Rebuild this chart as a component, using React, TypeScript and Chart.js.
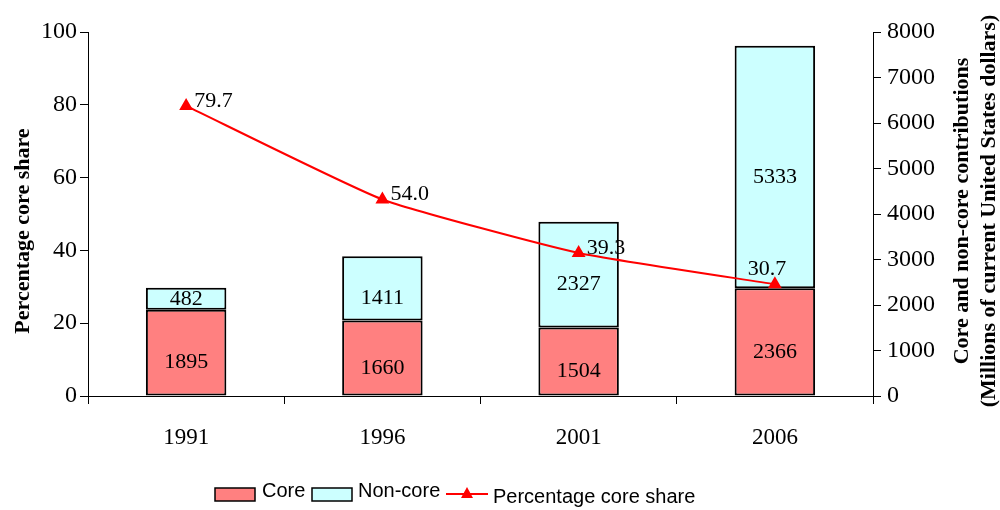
import React, { useEffect, useRef } from "react";
import { Chart, registerables } from "chart.js";

Chart.register(...registerables);

const years = ["1991", "1996", "2001", "2006"];
const coreValues = [1895, 1660, 1504, 2366];
const nonCoreValues = [482, 1411, 2327, 5333];
const coreSharePct = [79.7, 54.0, 39.3, 30.7];
const leftTicks = [0, 20, 40, 60, 80, 100];
const rightTicks = [0, 1000, 2000, 3000, 4000, 5000, 6000, 7000, 8000];
const lineLabelPlacement = ["right", "right", "right", "above"];

const SERIF = "'Liberation Serif', 'Times New Roman', serif";
const SANS = "'Liberation Sans', Arial, sans-serif";

const labelsPlugin = {
  id: "customLabels",
  afterDatasetsDraw(chart: any) {
    const ctx = chart.ctx;
    ctx.save();
    ctx.fillStyle = "#000";
    ctx.font = `22px ${SERIF}`;
    ctx.textAlign = "center";
    ctx.textBaseline = "middle";
    [0, 1].forEach((di) => {
      const meta = chart.getDatasetMeta(di);
      const vals = chart.data.datasets[di].data as number[];
      meta.data.forEach((bar: any, i: number) => {
        const top = Math.min(bar.y, bar.base);
        const bottom = Math.max(bar.y, bar.base);
        const h = bottom - top;
        const off = Math.min(10, Math.max(0, h / 2 - 11));
        ctx.fillText(String(vals[i]), bar.x, (top + bottom) / 2 + off);
      });
    });
    const lm = chart.getDatasetMeta(2);
    lm.data.forEach((pt: any, i: number) => {
      const txt = coreSharePct[i].toFixed(1);
      if (lineLabelPlacement[i] === "above") {
        ctx.textAlign = "center";
        ctx.fillText(txt, pt.x - 8, pt.y - 15);
      } else {
        ctx.textAlign = "left";
        ctx.fillText(txt, pt.x + 8, pt.y - 5);
      }
    });
    ctx.restore();
  },
  afterDraw(chart: any) {
    const ctx = chart.ctx;
    ctx.save();
    ctx.fillStyle = "#000";
    ctx.font = `bold 22px ${SERIF}`;
    ctx.textAlign = "center";
    ctx.textBaseline = "middle";
    // left title
    ctx.save();
    ctx.translate(23, 231);
    ctx.rotate(-Math.PI / 2);
    ctx.fillText("Percentage core share", 0, 0);
    ctx.restore();
    // right title
    ctx.save();
    ctx.translate(962, 211);
    ctx.rotate(-Math.PI / 2);
    ctx.fillText("Core and non-core contributions", 0, 0);
    ctx.fillText("(Millions of current United States dollars)", 0, 27);
    ctx.restore();

    // legend
    const ly = 494;
    ctx.font = `20px ${SANS}`;
    ctx.textAlign = "left";
    ctx.lineWidth = 1.5;
    ctx.strokeStyle = "#000";
    ctx.fillStyle = "#FF8080";
    ctx.fillRect(215, 488, 40, 13);
    ctx.strokeRect(215, 488, 40, 13);
    ctx.fillStyle = "#000";
    ctx.fillText("Core", 262, 491);
    ctx.fillStyle = "#CCFFFF";
    ctx.fillRect(312, 488, 40, 13);
    ctx.strokeRect(312, 488, 40, 13);
    ctx.fillStyle = "#000";
    ctx.fillText("Non-core", 358, 491);
    ctx.strokeStyle = "#FF0000";
    ctx.lineWidth = 2;
    ctx.beginPath();
    ctx.moveTo(446, ly);
    ctx.lineTo(488, ly);
    ctx.stroke();
    ctx.fillStyle = "#FF0000";
    ctx.beginPath();
    ctx.moveTo(467, ly - 7);
    ctx.lineTo(473, ly + 4);
    ctx.lineTo(461, ly + 4);
    ctx.closePath();
    ctx.fill();
    ctx.fillStyle = "#000";
    ctx.fillText("Percentage core share", 493, 497);
    ctx.restore();
  },
};

export default function App() {
  const ref = useRef<HTMLCanvasElement | null>(null);
  useEffect(() => {
    if (!ref.current) return;
    const chart = new Chart(ref.current, {
      type: "bar",
      data: {
        labels: years,
        datasets: [
          {
            type: "bar",
            label: "Core",
            data: coreValues,
            backgroundColor: "#FF8080",
            borderColor: "#000",
            borderWidth: 2,
            borderSkipped: false,
            yAxisID: "y1",
            stack: "s",
            barPercentage: 0.41,
            categoryPercentage: 1,
            order: 2,
          },
          {
            type: "bar",
            label: "Non-core",
            data: nonCoreValues,
            backgroundColor: "#CCFFFF",
            borderColor: "#000",
            borderWidth: 2,
            borderSkipped: false,
            yAxisID: "y1",
            stack: "s",
            barPercentage: 0.41,
            categoryPercentage: 1,
            order: 2,
          },
          {
            type: "line",
            label: "Percentage core share",
            data: coreSharePct,
            borderColor: "#FF0000",
            backgroundColor: "#FF0000",
            borderWidth: 2,
            pointStyle: "triangle",
            pointRadius: 6,
            pointHoverRadius: 6,
            tension: 0.15,
            yAxisID: "y",
            order: 1,
          },
        ] as any,
      },
      options: {
        responsive: false,
        animation: false,
        devicePixelRatio: 1,
        layout: { padding: { top: 32, left: 0, right: 0, bottom: 0 } },
        plugins: {
          legend: { display: false },
          tooltip: { enabled: false },
        },
        scales: {
          x: {
            stacked: true,
            offset: true,
            grid: {
              offset: true,
              drawOnChartArea: false,
              drawTicks: true,
              tickLength: 8,
              color: "#000",
            },
            border: { color: "#000", width: 1 },
            ticks: {
              color: "#000",
              font: { family: SERIF, size: 23 },
              padding: 20,
            },
            afterFit: (s: any) => {
              s.height = 114;
            },
          },
          y: {
            position: "left",
            min: 0,
            max: 100,
            afterBuildTicks: (s: any) => {
              s.ticks = leftTicks.map((v) => ({ value: v }));
            },
            grid: { drawOnChartArea: false, tickLength: 8, color: "#000" },
            border: { color: "#000", width: 1 },
            ticks: {
              color: "#000",
              font: { family: SERIF, size: 24 },
              padding: 3,
              callback: (v: any) => String(v),
            },
            afterFit: (s: any) => {
              s.width = 88;
            },
          },
          y1: {
            position: "right",
            stacked: true,
            min: 0,
            max: 8000,
            afterBuildTicks: (s: any) => {
              s.ticks = rightTicks.map((v) => ({ value: v }));
            },
            grid: { drawOnChartArea: false, tickLength: 8, color: "#000" },
            border: { color: "#000", width: 1 },
            ticks: {
              color: "#000",
              font: { family: SERIF, size: 24 },
              padding: 6,
              callback: (v: any) => String(v),
            },
            afterFit: (s: any) => {
              s.width = 127;
            },
          },
        },
      },
      plugins: [labelsPlugin],
    });
    return () => chart.destroy();
  }, []);
  return (
    <div style={{ position: "fixed", left: 0, top: 0, width: 1000, height: 510, background: "#fff" }}>
      <canvas ref={ref} width={1000} height={510} />
    </div>
  );
}
